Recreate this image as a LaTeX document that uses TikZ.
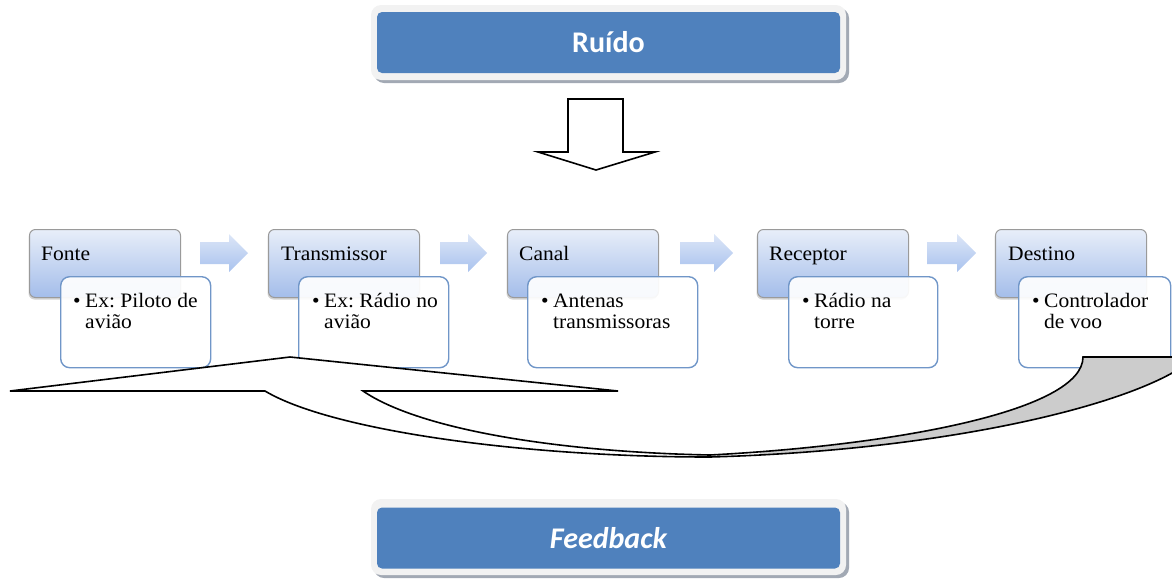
\documentclass[tikz,border=0pt]{standalone}
\usepackage{fontspec}
\setmainfont[FakeStretch=1.05]{Liberation Serif}
\newfontfamily\calib{Carlito}
\usetikzlibrary{shadows}
\frenchspacing
\definecolor{hdrblue}{HTML}{4F81BD}
\definecolor{plate}{HTML}{F2F2F2}
\definecolor{plateshadow}{HTML}{A2A9B4}
\definecolor{stagetop}{HTML}{E8EEF9}
\definecolor{stagebot}{HTML}{A3BDEA}
\definecolor{stageborder}{HTML}{9A9A9A}
\definecolor{subborder}{HTML}{7096C8}
\definecolor{chevtop}{HTML}{DCE6F7}
\definecolor{chevbot}{HTML}{A9C2EE}
\definecolor{bandgray}{HTML}{CCCCCC}
\begin{document}
\begin{tikzpicture}[x=1pt,y=-1pt,
  stage/.style={rectangle, rounded corners=6pt, draw=stageborder, line width=1pt,
    top color=stagetop, bottom color=stagebot, minimum width=151pt, minimum height=68pt,
    inner sep=0pt, anchor=north west,
    drop shadow={shadow xshift=-1pt, shadow yshift=-2pt, opacity=0.35, fill=gray}},
  subbox/.style={rectangle, rounded corners=9pt, draw=subborder, line width=1.4pt,
    fill=white, fill opacity=0.92, minimum height=91pt, inner sep=0pt, anchor=north west},
  txt/.style={anchor=base west, inner sep=0pt, font=\fontsize{20.5}{21}\selectfont},
  hdr/.style={rectangle, rounded corners=5pt, fill=hdrblue, text=white, inner sep=0pt,
    minimum width=463pt, minimum height=61pt, font=\calib\bfseries\fontsize{30}{36}\selectfont},
  chev/.style={top color=chevtop, bottom color=chevbot},
  outline/.style={draw=black, line width=1.6pt, line join=miter}
]
\useasboundingbox (0,0) rectangle (1172,579);
\clip (0,0) rectangle (1172,579);

% stage boxes
\node[stage] (fonte) at (29,229) {};
\node[stage] (trans) at (268,229) {};
\node[stage] (canal) at (507,229) {};
\node[stage] (recep) at (757,229) {};
\node[stage] (dest)  at (995,229) {};

% chevrons
\foreach \x/\w in {200/48, 440/47, 680/53, 927/49}{
  \path[chev] (\x,242) -- ({\x+\w-19},242) -- ({\x+\w-19},234) -- ({\x+\w},253)
     -- ({\x+\w-19},272) -- ({\x+\w-19},264) -- (\x,264) -- cycle;
}

% sub boxes
\node[subbox, minimum width=150pt] (fonteS) at (60,276) {};
\node[subbox, minimum width=150pt] (transS) at (298,276) {};
\node[subbox, minimum width=170pt] (canalS) at (527,276) {};
\node[subbox, minimum width=149pt] (recepS) at (788,276) {};
\node[subbox, minimum width=152pt] (destS)  at (1018,276) {};

% titles
\node[txt] (fonteT) at (41,260) {Fonte};
\node[txt] (transT) at (281,260) {Transmissor};
\node[txt] (canalT) at (519,260) {Canal};
\node[txt] (recepT) at (769,260) {Receptor};
\node[txt] (destT)  at (1008,260) {Destino};

% body texts
\node[txt] (fonteA) at (73,307) {\makebox[12pt][l]{\textbullet}Ex: Piloto de};
\node[txt] (fonteB) at (85,328) {avião};
\node[txt] (transA) at (312,307) {\makebox[12pt][l]{\textbullet}Ex: Rádio no};
\node[txt] (transB) at (324,328) {avião};
\node[txt] (canalA) at (541,307) {\makebox[12pt][l]{\textbullet}Antenas};
\node[txt] (canalB) at (553,328) {transmissoras};
\node[txt] (recepA) at (802,307) {\makebox[12pt][l]{\textbullet}Rádio na};
\node[txt] (recepB) at (814,328) {torre};
\node[txt] (destA)  at (1032,307) {\makebox[12pt][l]{\textbullet}Controlador};
\node[txt] (destB)  at (1044,328) {de voo};

% feedback curved arrow
\def\bandpath{(363,391) .. controls (420,430) and (560,452) .. (710,455)
  .. controls (900,445) and (1083,410) .. (1083,357) -- (1195,357)
  .. controls (1150,400) and (960,450) .. (710,457)
  .. controls (520,457) and (330,430) .. (265,391) -- (10,391) -- (290,357)
  -- (618,391) -- cycle}
\fill[white] \bandpath;
\begin{scope}
  \clip (760,340) rectangle (1200,470);
  \fill[bandgray] \bandpath;
\end{scope}
\draw[outline] \bandpath;

% Ruido header
\fill[plateshadow, rounded corners=10pt] (374,8) rectangle (849,83);
\fill[plate, rounded corners=10pt] (371,5) rectangle (846,80);
\node[hdr] (ruido) at (608.5,42.5) {Ruído};

% Feedback header
\fill[plateshadow, rounded corners=10pt] (374,502) rectangle (849,578);
\fill[plate, rounded corners=10pt] (371,499) rectangle (846,575);
\node[hdr, font=\calib\bfseries\itshape\fontsize{30}{36}\selectfont] (feedback) at (608.5,538) {Feedback};

% down block arrow
\draw[outline, fill=white] (568,99) -- (623,99) -- (623,152) -- (655,152) -- (596,170)
  -- (538,152) -- (568,152) -- cycle;
\end{tikzpicture}
\end{document}
